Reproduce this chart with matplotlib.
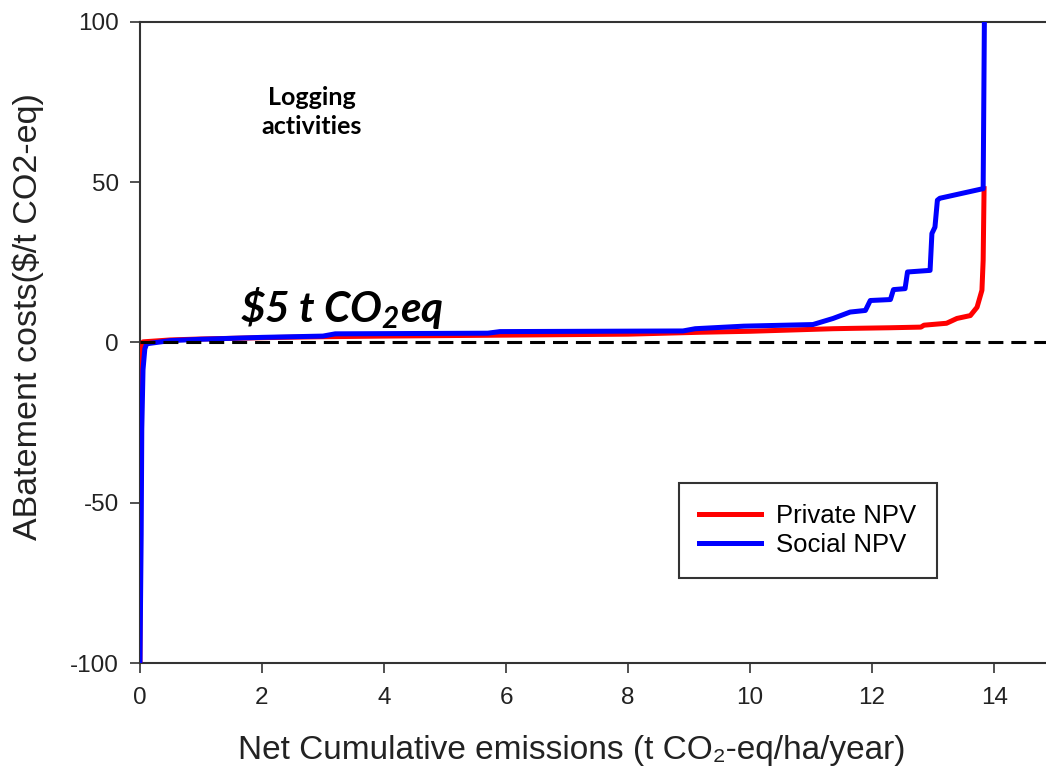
import matplotlib
matplotlib.use("Agg")
from matplotlib import pyplot as plt

plt.rcParams["font.family"] = ["Liberation Sans", "DejaVu Sans"]
plt.rcParams["axes.unicode_minus"] = False
plt.rcParams["mathtext.fontset"] = "custom"
plt.rcParams["mathtext.rm"] = "Lato:bold:italic"
plt.rcParams["mathtext.it"] = "Lato:bold:italic"
plt.rcParams["mathtext.bf"] = "Lato:bold:italic"

# Private NPV (red)
private_x = [0, 0.005, 0.01, 0.02, 0.05, 0.5, 1, 2, 3, 4, 6, 8, 9.2, 10,
             11.36, 11.64, 12.3, 12.8, 12.85, 13.22, 13.39, 13.61, 13.72,
             13.8, 13.82, 13.835]
private_y = [-100, -60, -30, -5, 0.2, 0.8, 1.1, 1.5, 1.8, 2.0, 2.3, 2.6, 3.2, 3.5,
             4.3, 4.4, 4.6, 4.8, 5.4, 6.0, 7.5, 8.4, 11, 16.3, 25.6, 48]

# Social NPV (blue)
social_x = [0, 0.02, 0.03, 0.05, 0.08, 0.11, 0.5, 1, 2, 3.0, 3.2, 5.7, 5.9, 8.9,
            9.1, 9.9, 11.03, 11.36, 11.64, 11.89, 11.97, 12.3, 12.35, 12.54,
            12.58, 12.95, 12.98, 13.03, 13.07, 13.11, 13.82, 13.84]
social_y = [-100, -60, -27, -8.5, -2, -0.4, 0.6, 1.0, 1.6, 2.0, 2.7, 2.9, 3.4, 3.6,
            4.3, 5.1, 5.6, 7.5, 9.5, 10.0, 13.1, 13.4, 16.5, 16.8,
            22.0, 22.5, 34, 36, 44.4, 45, 48, 100]

fig = plt.figure(figsize=(10.46, 7.74), dpi=100)
ax = fig.add_axes([0.1338, 0.1434, 0.8662, 0.8282])

ax.plot(private_x, private_y, color="#ff0000", lw=3.6, label="Private NPV", zorder=3)
ax.plot(social_x, social_y, color="#0000ff", lw=3.6, label="Social NPV", zorder=4)
ax.axhline(0, color="black", lw=2.2, ls=(0, (4.9, 2.6)), zorder=5)

ax.set_xlim(0, 14.85)
ax.set_ylim(-100, 100)
ax.set_xticks([0, 2, 4, 6, 8, 10, 12, 14])
ax.set_yticks([-100, -50, 0, 50, 100])

for side in ["left", "bottom", "top"]:
    ax.spines[side].set_color("#333333")
    ax.spines[side].set_linewidth(1.5)
ax.spines["right"].set_visible(False)
ax.tick_params(axis="both", direction="out", length=7, width=1.2,
               color="#333333", labelsize=17.5, labelcolor="#222222")
ax.tick_params(axis="x", pad=10)
ax.tick_params(axis="y", pad=8)

ax.set_xlabel("Net Cumulative emissions (t CO₂-eq/ha/year)", fontsize=24, color="#222222")
ax.set_ylabel("ABatement costs($/t CO2-eq)", fontsize=24.5, color="#222222")
ax.xaxis.set_label_coords(0.477, -0.112)
ax.yaxis.set_label_coords(-0.106, 0.541)

ax.text(2.82, 71.9, "Logging\nactivities", ha="center", va="center",
        fontsize=18, fontweight="bold", family="Lato", linespacing=1.3)
ax.text(1.64, 6.25, r"\$5 t CO$_2$eq", ha="left", va="baseline",
        fontsize=30.5, fontweight="bold", style="italic", family="Lato")

leg = ax.legend(loc="lower right", bbox_to_anchor=(0.894, 0.113), fontsize=18.5,
                frameon=True, fancybox=False, handlelength=2.4, borderpad=0.8,
                labelspacing=0.2, handletextpad=0.6)
leg.get_frame().set_edgecolor("black")
leg.get_frame().set_linewidth(1.5)

fig.savefig("out.png", dpi=100)
